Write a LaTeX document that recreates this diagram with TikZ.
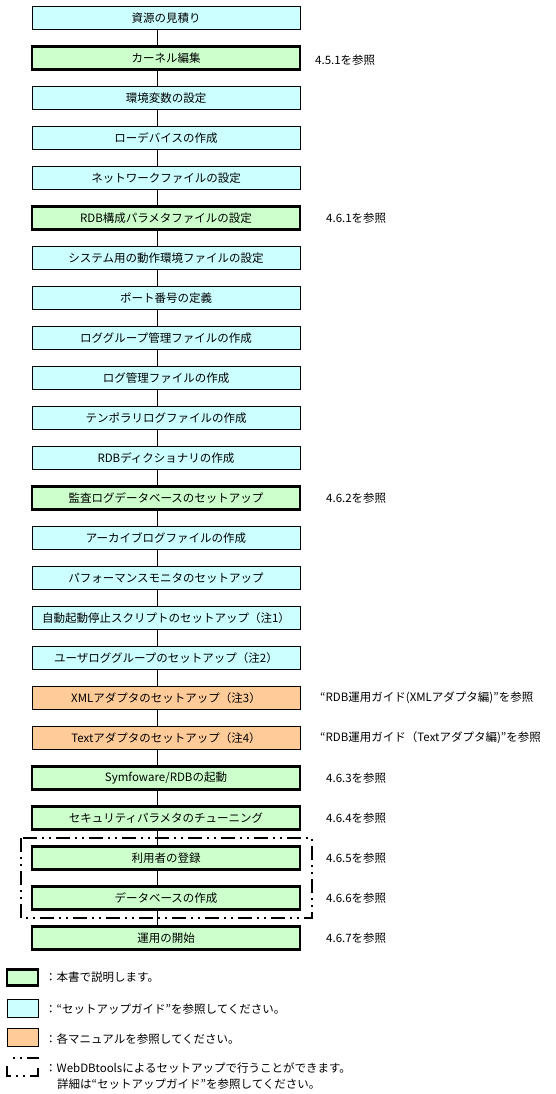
\documentclass[tikz,border=0pt]{standalone}
\usepackage{fontspec}
\setmainfont{Noto Sans CJK JP}
\definecolor{owncol}{HTML}{CCFFCC}
\definecolor{guidecol}{HTML}{CCFFFF}
\definecolor{manualcol}{HTML}{FFCC99}
\tikzset{
  every picture/.style = {
    x=1pt, y=-1pt,
    font=\fontsize{11.5}{13}\selectfont
  }
}
\tikzset{
  stepbox/.style={
    draw,
    minimum width=268pt,
    minimum height=23pt,
    inner sep=0pt
  },
  own/.style={
    stepbox,
    line width=2.4pt,
    fill=owncol
  },
  guide/.style={
    stepbox,
    line width=0.9pt,
    fill=guidecol
  },
  manual/.style={
    stepbox,
    line width=0.9pt,
    fill=manualcol
  },
  webdb/.style={
    line width=2pt,
    dash pattern=on 14pt off 5pt on 2pt off 5pt on 2pt off 5pt
  },
  flow/.style={
    line width=0.8pt
  },
  seeref/.style={
    anchor=west,
    inner sep=0pt
  }
}

\begin{document}
\begin{tikzpicture}
        \useasboundingbox (0,0) rectangle (555,1094);
        % steps
        \node[guide] (s1) at (166,18) {資源の見積り};
        \node[own] (s2) at (166,58) {カーネル編集};
        \node[guide] (s3) at (166,98) {環境変数の設定};
        \node[guide] (s4) at (166,138) {ローデバイスの作成};
        \node[guide] (s5) at (166,178) {ネットワークファイルの設定};
        \node[own] (s6) at (166,218) {RDB構成パラメタファイルの設定};
        \node[guide] (s7) at (166,258) {システム用の動作環境ファイルの設定};
        \node[guide] (s8) at (166,298) {ポート番号の定義};
        \node[guide] (s9) at (166,338) {ロググループ管理ファイルの作成};
        \node[guide] (s10) at (166,378) {ログ管理ファイルの作成};
        \node[guide] (s11) at (166,418) {テンポラリログファイルの作成};
        \node[guide] (s12) at (166,458) {RDBディクショナリの作成};
        \node[own] (s13) at (166,498) {監査ログデータベースのセットアップ};
        \node[guide] (s14) at (166,538) {アーカイブログファイルの作成};
        \node[guide] (s15) at (166,578) {パフォーマンスモニタのセットアップ};
        \node[guide] (s16) at (166,618) {自動起動停止スクリプトのセットアップ（注1）};
        \node[guide] (s17) at (166,658) {ユーザロググループのセットアップ（注2）};
        \node[manual] (s18) at (166,698) {XMLアダプタのセットアップ（注3）};
        \node[manual] (s19) at (166,738) {Textアダプタのセットアップ（注4）};
        \node[own] (s20) at (166,778) {Symfoware/RDBの起動};
        \node[own] (s21) at (166,818) {セキュリティパラメタのチューニング};
        \node[own] (s22) at (166,858) {利用者の登録};
        \node[own] (s23) at (166,898) {データベースの作成};
        \node[own] (s24) at (166,938) {運用の開始};
        % flow
        \draw[flow] ([xshift=-9pt]s1.south) -- ([xshift=-9pt]s2.north);
        \draw[flow] ([xshift=-9pt]s2.south) -- ([xshift=-9pt]s3.north);
        \draw[flow] ([xshift=-9pt]s3.south) -- ([xshift=-9pt]s4.north);
        \draw[flow] ([xshift=-9pt]s4.south) -- ([xshift=-9pt]s5.north);
        \draw[flow] ([xshift=-9pt]s5.south) -- ([xshift=-9pt]s6.north);
        \draw[flow] ([xshift=-9pt]s6.south) -- ([xshift=-9pt]s7.north);
        \draw[flow] ([xshift=-9pt]s7.south) -- ([xshift=-9pt]s8.north);
        \draw[flow] ([xshift=-9pt]s8.south) -- ([xshift=-9pt]s9.north);
        \draw[flow] ([xshift=-9pt]s9.south) -- ([xshift=-9pt]s10.north);
        \draw[flow] ([xshift=-9pt]s10.south) -- ([xshift=-9pt]s11.north);
        \draw[flow] ([xshift=-9pt]s11.south) -- ([xshift=-9pt]s12.north);
        \draw[flow] ([xshift=-9pt]s12.south) -- ([xshift=-9pt]s13.north);
        \draw[flow] ([xshift=-9pt]s13.south) -- ([xshift=-9pt]s14.north);
        \draw[flow] ([xshift=-9pt]s14.south) -- ([xshift=-9pt]s15.north);
        \draw[flow] ([xshift=-9pt]s15.south) -- ([xshift=-9pt]s16.north);
        \draw[flow] ([xshift=-9pt]s16.south) -- ([xshift=-9pt]s17.north);
        \draw[flow] ([xshift=-9pt]s17.south) -- ([xshift=-9pt]s18.north);
        \draw[flow] ([xshift=-9pt]s18.south) -- ([xshift=-9pt]s19.north);
        \draw[flow] ([xshift=-9pt]s19.south) -- ([xshift=-9pt]s20.north);
        \draw[flow] ([xshift=-9pt]s20.south) -- ([xshift=-9pt]s21.north);
        \draw[flow] ([xshift=-9pt]s21.south) -- ([xshift=-9pt]s22.north);
        \draw[flow] ([xshift=-9pt]s22.south) -- ([xshift=-9pt]s23.north);
        \draw[flow] ([xshift=-9pt]s23.south) -- ([xshift=-9pt]s24.north);
        % WebDBtools group
        \draw[webdb] (21,838) rectangle (312,918);
        % references
        \node[seeref] (r2) at (315,60) {4.5.1を参照};
        \node[seeref] (r6) at (326,218) {4.6.1を参照};
        \node[seeref] (r13) at (326,498) {4.6.2を参照};
        \node[seeref] (r18) at (320,698) {“RDB運用ガイド(XMLアダプタ編)”を参照};
        \node[seeref] (r19) at (320,738) {“RDB運用ガイド（Textアダプタ編)”を参照};
        \node[seeref] (r20) at (326,778) {4.6.3を参照};
        \node[seeref] (r21) at (326,818) {4.6.4を参照};
        \node[seeref] (r22) at (326,858) {4.6.5を参照};
        \node[seeref] (r23) at (326,898) {4.6.6を参照};
        \node[seeref] (r24) at (326,938) {4.6.7を参照};
        % legend
        \node[own, minimum width=31pt, minimum height=16pt] (k1) at (22.5,977.5) {};
        \node[guide, minimum width=31pt, minimum height=18pt] (k2) at (22.5,1008) {};
        \node[manual, minimum width=31pt, minimum height=18pt] (k3) at (22.5,1037.5) {};
        \draw[webdb, dash pattern=on 14pt off 5pt on 2pt off 5pt on 2pt off 5pt on 16pt off 9pt on 12pt off 5pt on 2pt off 5pt on 2pt off 14pt, dash phase=90pt] (7,1058) rectangle (38,1076);
        \node[seeref] (t1) at (45,977) {：本書で説明します。};
        \node[seeref] (t2) at (45,1009) {：“セットアップガイド”を参照してください。};
        \node[seeref] (t3) at (45,1039) {：各マニュアルを参照してください。};
        \node[seeref] (t4) at (45,1068) {：WebDBtoolsによるセットアップで行うことができます。};
        \node[seeref] (t5) at (57,1084) {詳細は“セットアップガイド”を参照してください。};
\end{tikzpicture}
\end{document}
